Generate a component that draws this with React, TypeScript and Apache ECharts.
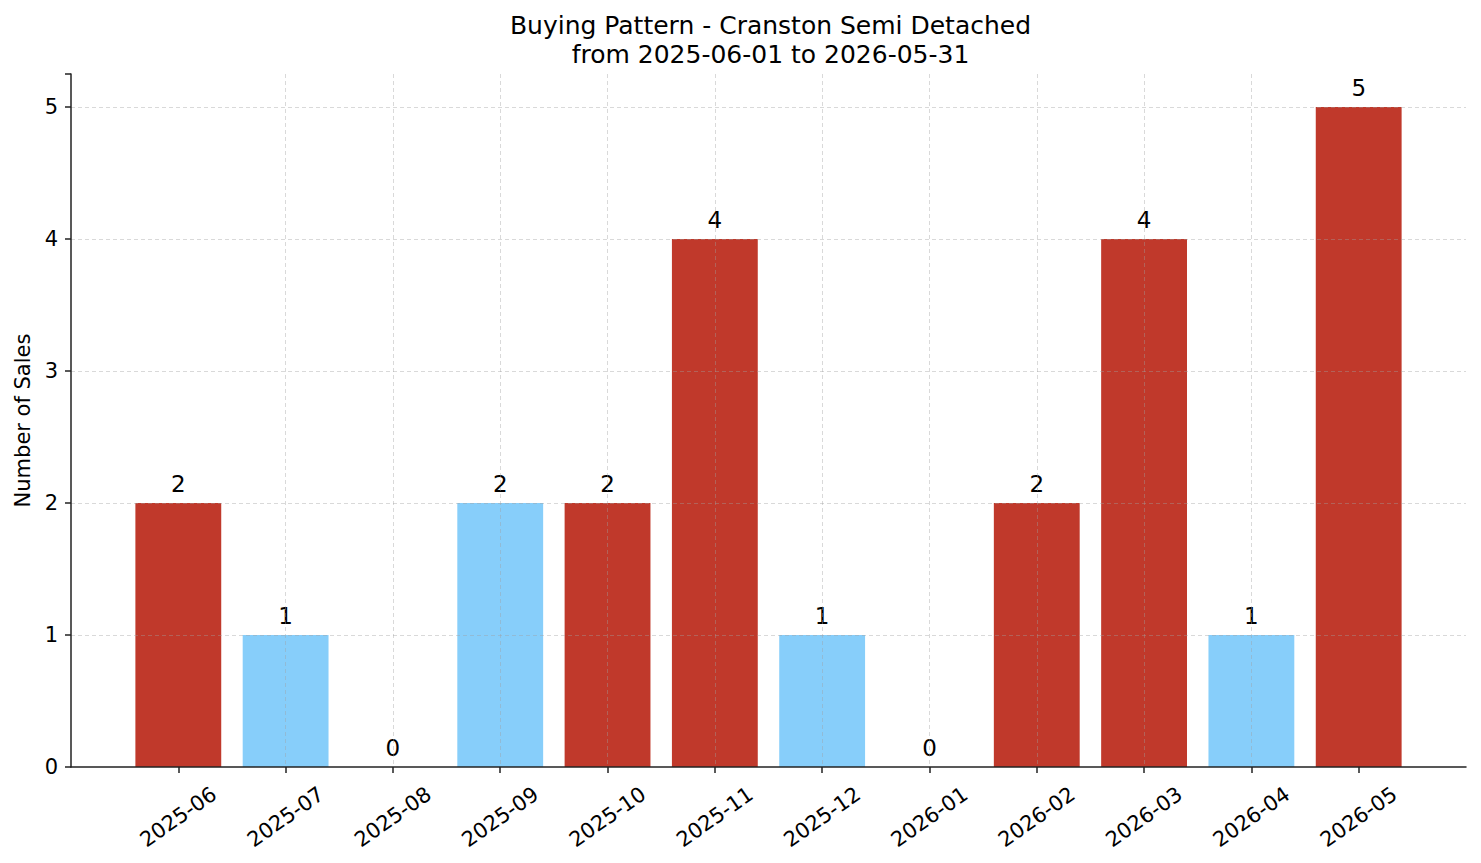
import React, { useEffect, useRef } from "react";
import * as echarts from "echarts";

const months = [
  "2025-06", "2025-07", "2025-08", "2025-09", "2025-10", "2025-11",
  "2025-12", "2026-01", "2026-02", "2026-03", "2026-04", "2026-05",
];
const sales = [2, 1, 0, 2, 2, 4, 1, 0, 2, 4, 1, 5];
const highlighted = [true, false, false, false, true, true, false, false, true, true, false, true];
const yTicks = [0, 1, 2, 3, 4, 5];
const titleLines = ["Buying Pattern - Cranston Semi Detached", "from 2025-06-01 to 2026-05-31"];
const yAxisTitle = "Number of Sales";

const RED = "#c0392b";
const BLUE = "#87cefa";
const SANS = "'DejaVu Sans', sans-serif";

const W = 1481;
const H = 863;
const GRID = { left: 71, right: 15, top: 74, bottom: 96 };
const XMIN = -1;
const XMAX = 12;

export default function App() {
  const ref = useRef<HTMLDivElement>(null);
  useEffect(() => {
    if (!ref.current) return;
    const chart = echarts.init(ref.current, null, { renderer: "svg" });
    const plotW = W - GRID.left - GRID.right;
    const barW = (0.8 * plotW) / (XMAX - XMIN);
    const idx = months.map((_, i) => i);
    const gridLine = {
      show: true,
      showMinLine: false,
      showMaxLine: false,
      lineStyle: { color: "rgba(160,160,160,0.5)", type: [4, 3], width: 0.8 },
    };
    chart.setOption({
      animation: false,
      backgroundColor: "#ffffff",
      title: {
        text: titleLines.join("\n"),
        left: GRID.left + plotW / 2 - 3,
        textAlign: "center",
        top: 6,
        textStyle: {
          fontFamily: SANS,
          fontSize: 25,
          fontWeight: "normal",
          color: "#000",
          lineHeight: 29,
        },
      },
      grid: { ...GRID, outerBoundsMode: "none", containLabel: false },
      xAxis: {
        type: "value",
        min: XMIN,
        max: XMAX,
        interval: 1,
        z: 3,
        axisLine: { show: true, onZero: false, lineStyle: { color: "#222", width: 1.5 } },
        axisTick: {
          show: true,
          customValues: idx,
          length: 6,
          lineStyle: { color: "#222", width: 1.5 },
        },
        axisLabel: {
          customValues: idx,
          formatter: (v: number) => months[Math.round(v)] ?? "",
          rotate: 35,
          align: "center",
          verticalAlign: "middle",
          margin: 50,
          fontFamily: SANS,
          fontSize: 21,
          color: "#000",
        },
        splitLine: gridLine,
      },
      yAxis: {
        type: "value",
        min: 0,
        max: 5.25,
        interval: 1,
        z: 3,
        name: yAxisTitle,
        nameLocation: "middle",
        nameGap: 37,
        nameRotate: 90,
        nameTextStyle: { fontFamily: SANS, fontSize: 21, color: "#000" },
        axisLine: { show: true, onZero: false, lineStyle: { color: "#222", width: 1.5 } },
        axisTick: { show: true, length: 6, lineStyle: { color: "#222", width: 1.5 } },
        axisLabel: {
          customValues: yTicks,
          margin: 13,
          fontFamily: SANS,
          fontSize: 21,
          color: "#000",
        },
        splitLine: gridLine,
      },
      series: [
        {
          type: "bar",
          barWidth: barW,
          z: 2,
          data: sales.map((v, i) => ({
            value: [i, v],
            itemStyle: { color: highlighted[i] ? RED : BLUE },
          })),
          label: {
            show: true,
            position: "top",
            distance: 8,
            formatter: (p: any) => String(p.value[1]),
            fontFamily: SANS,
            fontSize: 23,
            color: "#000",
          },
        },
      ],
    });
    return () => chart.dispose();
  }, []);
  return (
    <div
      ref={ref}
      style={{ position: "fixed", left: 0, top: 0, width: W, height: H }}
    />
  );
}
